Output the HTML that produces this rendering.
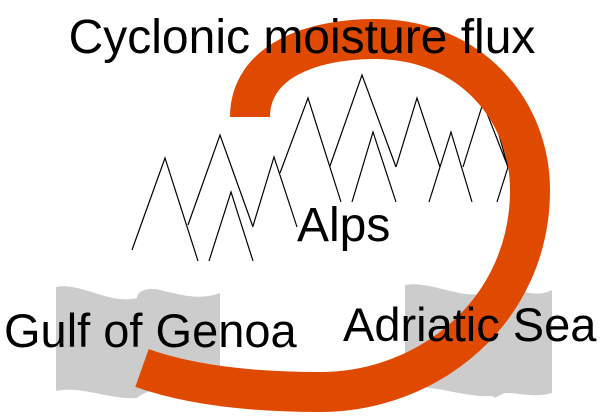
<!DOCTYPE html>
<html><head><meta charset="utf-8"><style>
html,body{margin:0;padding:0;background:#fff;width:600px;height:418px;overflow:hidden}
svg text{font-family:"Liberation Sans",sans-serif;fill:#000}
</style></head><body>
<svg width="600" height="418" viewBox="0 0 600 418" xmlns="http://www.w3.org/2000/svg">
<path d="M56,287 C80,282 110,305 137,298 C137,290 150,287 160,290 C185,296 200,300 220,293 L220,382 C200,388 180,384 160,388 C150,390 140,395 137,398 C110,400 80,385 56,391 Z" fill="#cccccc"/>
<path d="M405,285 C430,280 460,300 487,293 C487,287 500,285 510,288 C530,294 540,296 552,290 L552,393 C535,398 520,393 505,393 C498,395 495,400 493,396 C465,398 430,383 405,388 Z" fill="#cccccc"/>
<g fill="none" stroke="#000" stroke-width="1.2">
<polyline points="132,250 165,158 198,261"/>
<polyline points="188,225 220,135 253,227"/>
<polyline points="209,261 231,192 253,261"/>
<polyline points="253,226 274,157 297,227"/>
<polyline points="280,173 308,98 341,202"/>
<polyline points="330,166 362,75 396,167"/>
<polyline points="352,202 373,132 396,202"/>
<polyline points="396,167 417,98 440,167"/>
<polyline points="429,202 451,132 472,202"/>
<polyline points="463,167 483,103 508,167"/>
<polyline points="490,103 508,167 497,202"/>
</g>
<path d="M250,117 C250,62 310,39 375,39 C470,39 530,110 530,190 C530,310 430,392 320,392 C250,392 190,385 142,368" fill="none" stroke="#e04a00" stroke-width="40"/>
<text x="302" y="53" font-size="48" text-anchor="middle">Cyclonic moisture flux</text>
<text x="297" y="241" font-size="48">Alps</text>
<text x="4" y="347" font-size="47">Gulf of Genoa</text>
<text x="343" y="341" font-size="47">Adriatic Sea</text>
</svg>
</body></html>
